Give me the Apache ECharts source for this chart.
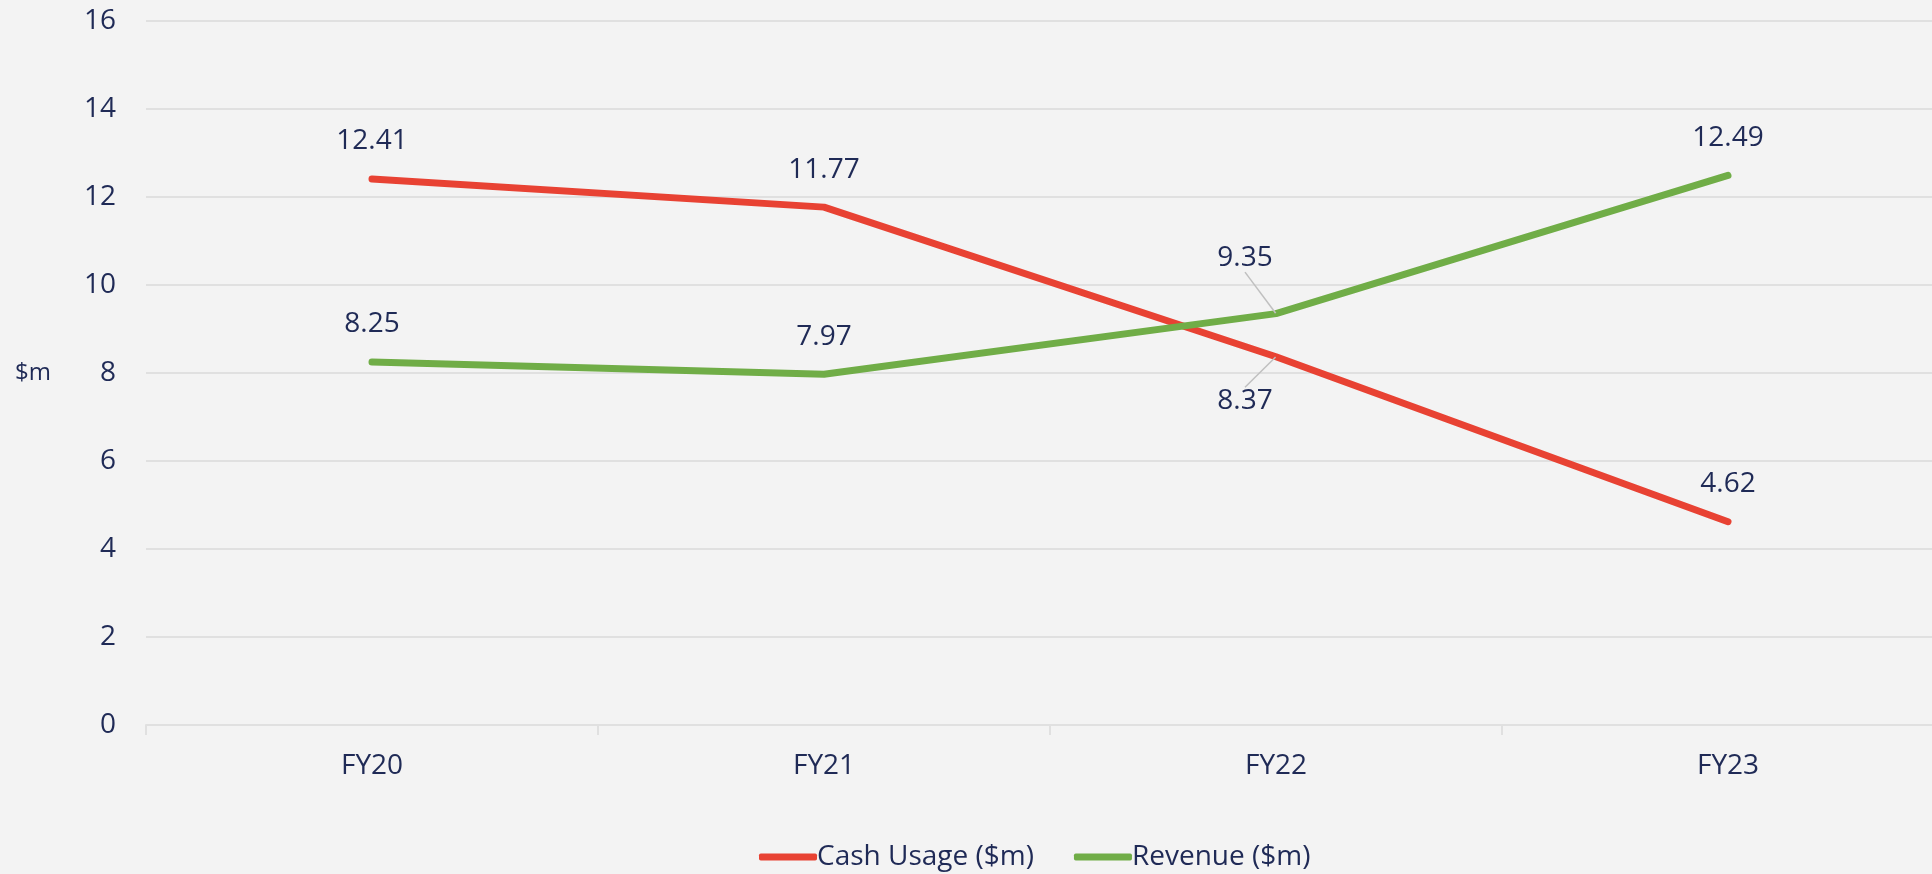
<!DOCTYPE html>
<html>
<head>
<meta charset="utf-8">
<script src="https://cdn.jsdelivr.net/npm/echarts@6/dist/echarts.min.js"></script>
<style>
html,body{margin:0;padding:0;background:#f3f3f3;}
#chart{width:1932px;height:874px;}
</style>
</head>
<body>
<div id="chart"></div>
<script>
const categories = ['FY20', 'FY21', 'FY22', 'FY23'];
const cashUsage = [12.41, 11.77, 8.37, 4.62];
const revenue = [8.25, 7.97, 9.35, 12.49];
const yTicks = { min: 0, max: 16, interval: 2 };

const TEXT = '#1F2A56';
const FONT = '"Open Sans", "Noto Sans", sans-serif';
const GRID = '#e0e0e0';
const LEADER = '#c0c0c0';

function buildData(values, specialIndex) {
  return values.map((v, i) => {
    if (i === specialIndex) {
      return { value: v, labelLine: { show: true, lineStyle: { color: LEADER, width: 1.5 } } };
    }
    return v;
  });
}

const chart = echarts.init(document.getElementById('chart'));
chart.setOption({
  backgroundColor: '#f3f3f3',
  animation: false,
  textStyle: { fontFamily: FONT, color: TEXT },
  grid: { left: 146, right: -22, top: 21, bottom: 149, containLabel: false, outerBoundsMode: 'none' },
  legend: {
    left: 754,
    top: 838,
    itemWidth: 58,
    itemHeight: 7,
    itemGap: 40,
    icon: 'roundRect',
    textStyle: { fontFamily: FONT, fontSize: 28, color: TEXT, padding: [0, 0, 0, -5] },
    data: ['Cash Usage ($m)', 'Revenue ($m)']
  },
  xAxis: {
    type: 'category',
    data: categories,
    boundaryGap: true,
    axisLine: { show: true, lineStyle: { color: GRID, width: 2 } },
    axisTick: { show: true, length: 10, lineStyle: { color: GRID, width: 2 } },
    axisLabel: { fontFamily: FONT, fontSize: 28, color: TEXT, margin: 27 },
    splitLine: { show: false }
  },
  yAxis: {
    type: 'value',
    min: yTicks.min,
    max: yTicks.max,
    interval: yTicks.interval,
    name: '$m',
    nameLocation: 'middle',
    nameRotate: 0,
    nameGap: 95,
    nameTextStyle: { fontFamily: FONT, fontSize: 24, color: TEXT },
    axisLine: { show: false },
    axisTick: { show: false },
    axisLabel: { fontFamily: FONT, fontSize: 28, color: TEXT, margin: 30 },
    splitLine: { show: true, lineStyle: { color: GRID, width: 2 } }
  },
  series: [
    {
      name: 'Cash Usage ($m)',
      type: 'line',
      data: buildData(cashUsage, 2),
      symbol: 'circle',
      symbolSize: 1,
      showSymbol: true,
      color: '#E84233',
      itemStyle: { color: '#E84233' },
      lineStyle: { color: '#E84233', width: 7, cap: 'round', join: 'round' },
      label: { show: true, position: 'top', distance: 23, fontFamily: FONT, fontSize: 28, color: TEXT },
      labelLayout: function (p) {
        if (p.dataIndex === 2) { return { dx: -31, dy: 82 }; }
        return {};
      },
      labelLine: { show: false, lineStyle: { color: LEADER, width: 1.5 } },
      z: 3
    },
    {
      name: 'Revenue ($m)',
      type: 'line',
      data: buildData(revenue, 2),
      symbol: 'circle',
      symbolSize: 1,
      showSymbol: true,
      color: '#70AD47',
      itemStyle: { color: '#70AD47' },
      lineStyle: { color: '#70AD47', width: 7, cap: 'round', join: 'round' },
      label: { show: true, position: 'top', distance: 23, fontFamily: FONT, fontSize: 28, color: TEXT },
      labelLayout: function (p) {
        if (p.dataIndex === 2) { return { dx: -31, dy: -18 }; }
        return {};
      },
      labelLine: { show: false, lineStyle: { color: LEADER, width: 1.5 } },
      z: 4
    }
  ]
});
</script>
</body>
</html>
